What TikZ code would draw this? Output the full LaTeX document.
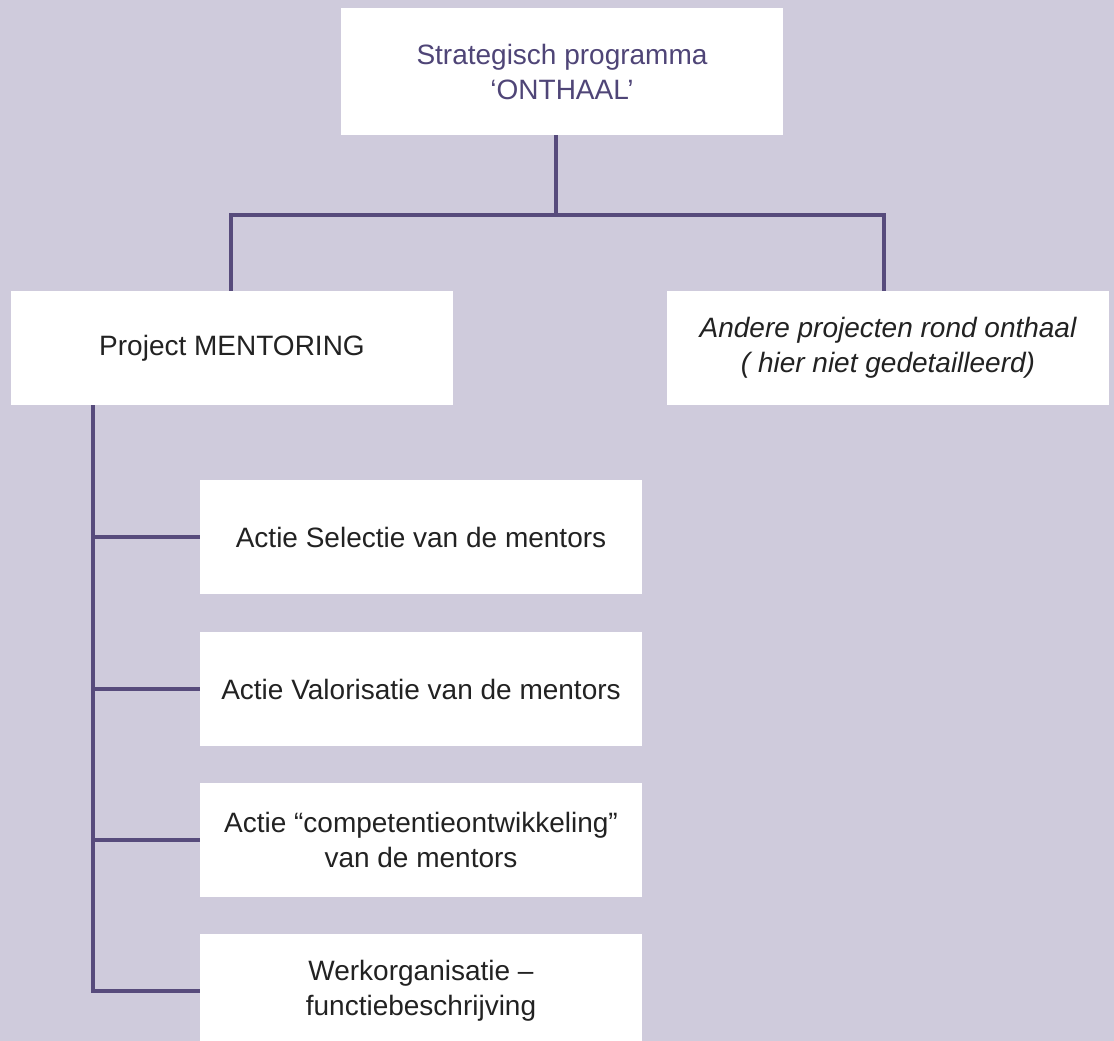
\documentclass[tikz,border=0pt]{standalone}
\usepackage{fontspec}
\setmainfont{Liberation Sans}
\definecolor{bgpurple}{HTML}{CFCBDC}
\definecolor{linepurple}{HTML}{574B7C}
\definecolor{titlepurple}{HTML}{4F4577}
\definecolor{bodytext}{HTML}{222222}
\begin{document}
\begin{tikzpicture}[x=1pt,y=-1pt,
  box/.style={rectangle, fill=white, draw=none, inner sep=0pt,
    minimum width=442pt, minimum height=114pt, align=center,
    text=bodytext, font=\fontsize{28}{35}\selectfont},
  link/.style={draw=linepurple, line width=3.2pt, line join=miter}]
  % canvas
  \fill[bgpurple] (0,0) rectangle (1114,1041);
  \clip (0,0) rectangle (1114,1041);

  % boxes
  \node[box, minimum height=127pt, text=titlepurple] (prog) at (562,71.5)
    {Strategisch programma\\‘ONTHAAL’};
  \node[box] (proj) at (232,348) {Project MENTORING};
  \node[box, font=\fontsize{28}{35}\selectfont\itshape] (other) at (888,348)
    {Andere projecten rond onthaal\\( hier niet gedetailleerd)};
  \node[box] (a1) at (421,537) {Actie Selectie van de mentors};
  \node[box] (a2) at (421,689) {Actie Valorisatie van de mentors};
  \node[box] (a3) at (421,840) {Actie “competentieontwikkeling”\\van de mentors};
  \node[box] (a4) at (421,991) {Werkorganisatie –\\functiebeschrijving};

  % connector junctions
  \coordinate (bus) at (556,215);
  \coordinate (busL) at (231,215);
  \coordinate (busR) at (884,215);
  \coordinate (spine) at (93,0);

  % programme to projects
  \draw[link] (prog.south -| bus) -- (bus);
  \draw[link] (proj.north -| busL) -- (busL) -- (busR) -- (other.north -| busR);

  % project to actions
  \draw[link] (proj.south -| spine) -- (a4.west -| spine) -- (a4.west);
  \draw[link] (a1.west -| spine) -- (a1.west);
  \draw[link] (a2.west -| spine) -- (a2.west);
  \draw[link] (a3.west -| spine) -- (a3.west);
\end{tikzpicture}
\end{document}
